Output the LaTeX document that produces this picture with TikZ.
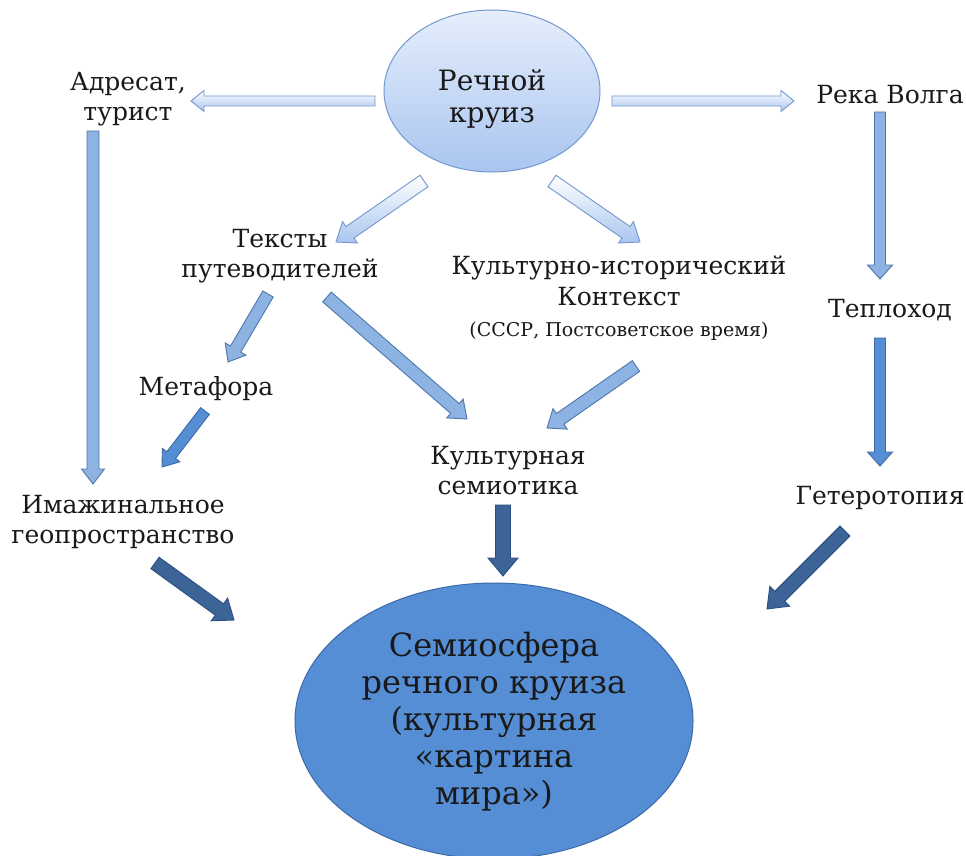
\documentclass[tikz,border=0pt]{standalone}
\usepackage{fontspec}
\setmainfont{DejaVu Serif}
\usetikzlibrary{calc,shapes.geometric}
\definecolor{ltop}{HTML}{E6EEFC}
\definecolor{lbot}{HTML}{A9C5EF}
\definecolor{lline}{HTML}{7397CF}
\definecolor{mfill}{HTML}{8DB3E2}
\definecolor{mline}{HTML}{4F76AD}
\definecolor{sfill}{HTML}{558ED5}
\definecolor{sline}{HTML}{3D6AA7}
\definecolor{dfill}{HTML}{3C6496}
\definecolor{dline}{HTML}{2B4F80}
\tikzset{
  lbl/.style={font=\fontsize{25}{30}\selectfont, align=center, inner sep=0pt, text=black!90},
  lightarr/.style={draw=lline, line width=0.9pt, top color=white, bottom color=lbot},
  medarr/.style={draw=mline, line width=0.9pt, fill=mfill},
  semarr/.style={draw=sline, line width=0.9pt, fill=sfill},
  darkarr/.style={draw=dline, line width=0.9pt, fill=dfill}
}
% #1 style, #2 from, #3 to, #4 half shaft, #5 half head, #6 head length
\newcommand\blockarrow[6]{%
  \path[#1] ($(#2)!#4!90:(#3)$)
    -- ($($(#3)!#6!(#2)$)!#4!90:(#3)$)
    -- ($($(#3)!#6!(#2)$)!#5!90:(#3)$)
    -- (#3)
    -- ($($(#3)!#6!(#2)$)!#5!-90:(#3)$)
    -- ($($(#3)!#6!(#2)$)!#4!-90:(#3)$)
    -- ($(#2)!#4!-90:(#3)$) -- cycle;}
\begin{document}
\begin{tikzpicture}[x=1pt,y=-1pt]
\useasboundingbox (0,0) rectangle (966,856);
\fill[white] (0,0) rectangle (966,856);

% main nodes
\node[ellipse, draw=lline, line width=1pt, top color=ltop, bottom color=lbot,
      minimum width=216pt, minimum height=162pt, inner sep=0pt] (cruise) at (492,91) {};
\node[font=\fontsize{28}{32}\selectfont, align=center, inner sep=0pt, text=black!90]
      (cruiselbl) at (492,99) {Речной\\круиз};
\node[ellipse, draw=sline, line width=1pt, fill=sfill,
      minimum width=398pt, minimum height=276pt, inner sep=0pt] (sphere) at (494,721) {};
\node[font=\fontsize{32}{37}\selectfont, align=center, inner sep=0pt, text=black!90]
      (spherelbl) at (494,722)
      {Семиосфера\\речного круиза\\(культурная\\«картина\\мира»)};

\node[lbl] (adr) at (128,99) {Адресат,\\турист};
\node[lbl] (volga) at (890,95) {Река Волга};
\node[lbl] (texts) at (280,256) {Тексты\\путеводителей};
\node[lbl, font=\fontsize{25}{31}\selectfont] (ctx) at (619,298) {Культурно-исторический\\Контекст\\{\fontsize{19}{22}\selectfont (СССР, Постсоветское время)}};
\node[lbl] (ship) at (890,310) {Теплоход};
\node[lbl] (meta) at (206,389) {Метафора};
\node[lbl] (sem) at (508,471) {Культурная\\семиотика};
\node[lbl] (imag) at (123,522) {Имажинальное\\геопространство};
\node[lbl] (hetero) at (880,498) {Гетеротопия};

% arrow end coordinates
\coordinate (a1s) at (375,101);  \coordinate (a1e) at (191,101);
\coordinate (a2s) at (612,101);  \coordinate (a2e) at (794,101);
\coordinate (a3s) at (93,131);   \coordinate (a3e) at (93,484);
\coordinate (a4s) at (880,112);  \coordinate (a4e) at (880,279);
\coordinate (a5s) at (880,338);  \coordinate (a5e) at (880,466);
\coordinate (a6s) at (424,181);  \coordinate (a6e) at (336,242);
\coordinate (a7s) at (552,181);  \coordinate (a7e) at (640,242);
\coordinate (a8s) at (268,294);  \coordinate (a8e) at (228,362);
\coordinate (a9s) at (327,297);  \coordinate (a9e) at (467,419);
\coordinate (a10s) at (636,366); \coordinate (a10e) at (547,428);
\coordinate (a11s) at (205,411); \coordinate (a11e) at (162,467);
\coordinate (a12s) at (503,505); \coordinate (a12e) at (503,576);
\coordinate (a13s) at (155,563); \coordinate (a13e) at (234,620);
\coordinate (a14s) at (845,531); \coordinate (a14e) at (767,609);

\blockarrow{lightarr}{a1s}{a1e}{5pt}{10.5pt}{13pt}
\blockarrow{lightarr}{a2s}{a2e}{5pt}{10.5pt}{13pt}
\blockarrow{medarr}{a3s}{a3e}{6pt}{11.5pt}{15pt}
\blockarrow{medarr}{a4s}{a4e}{5.5pt}{12.5pt}{14pt}
\blockarrow{semarr}{a5s}{a5e}{5.5pt}{12.5pt}{14pt}
\blockarrow{lightarr}{a6s}{a6e}{7pt}{13pt}{17pt}
\blockarrow{lightarr}{a7s}{a7e}{7pt}{13pt}{17pt}
\blockarrow{medarr}{a8s}{a8e}{6pt}{12pt}{15pt}
\blockarrow{medarr}{a9s}{a9e}{6.5pt}{12.5pt}{16pt}
\blockarrow{medarr}{a10s}{a10e}{6.5pt}{12.5pt}{16pt}
\blockarrow{semarr}{a11s}{a11e}{5.5pt}{11pt}{15pt}
\blockarrow{darkarr}{a12s}{a12e}{7.5pt}{15pt}{18pt}
\blockarrow{darkarr}{a13s}{a13e}{7pt}{14pt}{18pt}
\blockarrow{darkarr}{a14s}{a14e}{7pt}{14pt}{18pt}
\end{tikzpicture}
\end{document}
